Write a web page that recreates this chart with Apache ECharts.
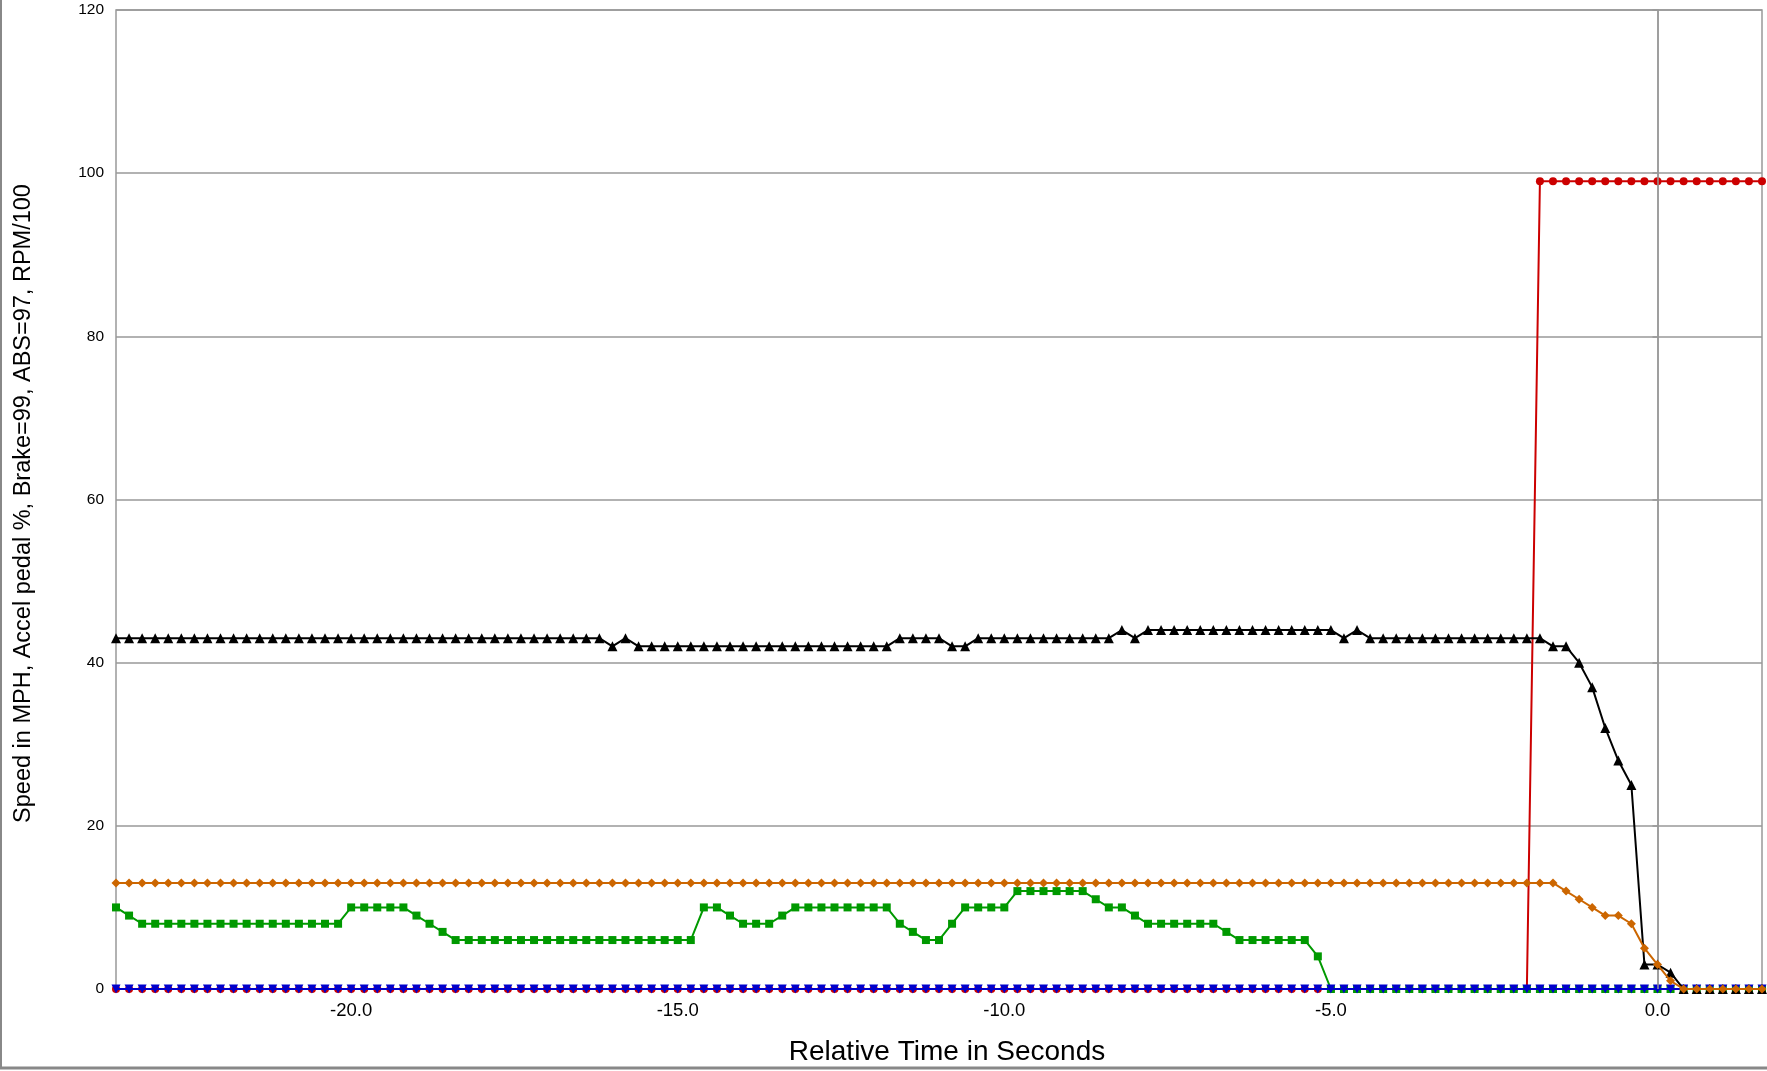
<!DOCTYPE html>
<html>
<head>
<meta charset="utf-8">
<style>
html,body{margin:0;padding:0;background:#fff;}
#chart{width:1767px;height:1071px;}
</style>
<script src="https://cdn.jsdelivr.net/npm/echarts@6/dist/echarts.min.js"></script>
</head>
<body>
<div id="chart"></div>
<script>
// Sample times: every 0.2 s from -23.6 to 1.6
var times = [];
for (var i = 0; i < 127; i++) { times.push(Math.round((-23.6 + 0.2 * i) * 10) / 10); }

var speed = [
  43,43,43,43,43,43,43,43,43,43,
  43,43,43,43,43,43,43,43,43,43,
  43,43,43,43,43,43,43,43,43,43,
  43,43,43,43,43,43,43,43,42,43,
  42,42,42,42,42,42,42,42,42,42,
  42,42,42,42,42,42,42,42,42,42,
  43,43,43,43,42,42,43,43,43,43,
  43,43,43,43,43,43,43,44,43,44,
  44,44,44,44,44,44,44,44,44,44,
  44,44,44,44,43,44,43,43,43,43,
  43,43,43,43,43,43,43,43,43,43,
  42,42,40,37,32,28,25,3,3,2,
  0,0,0,0,0,0,0
];
var accel = [
  13,13,13,13,13,13,13,13,13,13,
  13,13,13,13,13,13,13,13,13,13,
  13,13,13,13,13,13,13,13,13,13,
  13,13,13,13,13,13,13,13,13,13,
  13,13,13,13,13,13,13,13,13,13,
  13,13,13,13,13,13,13,13,13,13,
  13,13,13,13,13,13,13,13,13,13,
  13,13,13,13,13,13,13,13,13,13,
  13,13,13,13,13,13,13,13,13,13,
  13,13,13,13,13,13,13,13,13,13,
  13,13,13,13,13,13,13,13,13,13,
  13,12,11,10,9,9,8,5,3,1,
  0,0,0,0,0,0,0
];
var green = [
  10,9,8,8,8,8,8,8,8,8,
  8,8,8,8,8,8,8,8,10,10,
  10,10,10,9,8,7,6,6,6,6,
  6,6,6,6,6,6,6,6,6,6,
  6,6,6,6,6,10,10,9,8,8,
  8,9,10,10,10,10,10,10,10,10,
  8,7,6,6,8,10,10,10,10,12,
  12,12,12,12,12,11,10,10,9,8,
  8,8,8,8,8,7,6,6,6,6,
  6,6,4,0,0,0,0,0,0,0,
  0,0,0,0,0,0,0,0,0,0,
  0,0,0,0,0,0,0,0,0,0,
  0,0,0,0,0,0,0
];
var brake = [
  0,0,0,0,0,0,0,0,0,0,
  0,0,0,0,0,0,0,0,0,0,
  0,0,0,0,0,0,0,0,0,0,
  0,0,0,0,0,0,0,0,0,0,
  0,0,0,0,0,0,0,0,0,0,
  0,0,0,0,0,0,0,0,0,0,
  0,0,0,0,0,0,0,0,0,0,
  0,0,0,0,0,0,0,0,0,0,
  0,0,0,0,0,0,0,0,0,0,
  0,0,0,0,0,0,0,0,0,0,
  0,0,0,0,0,0,0,0,0,99,
  99,99,99,99,99,99,99,99,99,99,
  99,99,99,99,99,99,99
];
var abs = [
  0,0,0,0,0,0,0,0,0,0,
  0,0,0,0,0,0,0,0,0,0,
  0,0,0,0,0,0,0,0,0,0,
  0,0,0,0,0,0,0,0,0,0,
  0,0,0,0,0,0,0,0,0,0,
  0,0,0,0,0,0,0,0,0,0,
  0,0,0,0,0,0,0,0,0,0,
  0,0,0,0,0,0,0,0,0,0,
  0,0,0,0,0,0,0,0,0,0,
  0,0,0,0,0,0,0,0,0,0,
  0,0,0,0,0,0,0,0,0,0,
  0,0,0,0,0,0,0,0,0,0,
  0,0,0,0,0,0,0
];
var xTicks = [-20, -15, -10, -5, 0];

function pairs(vals) { return vals.map(function (v, i) { return [times[i], v]; }); }

var FONT = '"Liberation Sans", Arial, sans-serif';
var GRID = '#999999';

function lineSeries(name, vals, color, symbol, size, extra) {
  var s = {
    name: name, type: 'line', data: pairs(vals),
    symbol: symbol, symbolSize: size, showSymbol: true, showAllSymbol: true,
    lineStyle: { color: color, width: 2 },
    itemStyle: { color: color, borderWidth: 0 },
    animation: false, silent: true
  };
  for (var k in extra) s[k] = extra[k];
  return s;
}

var chart = echarts.init(document.getElementById('chart'));
chart.setOption({
  backgroundColor: '#ffffff',
  animation: false,
  grid: { left: 116, right: 5, top: 10, bottom: 81, show: true, borderColor: GRID, borderWidth: 1.5 },
  xAxis: {
    type: 'value', min: -23.6, max: 1.6,
    name: 'Relative Time in Seconds', nameLocation: 'middle', nameGap: 49,
    nameTextStyle: { fontFamily: FONT, fontSize: 28, color: '#000', padding: [0, 0, 0, 16] },
    axisLine: { show: true, onZero: false, lineStyle: { color: GRID, width: 1.5 } },
    axisTick: { show: false, customValues: xTicks },
    axisLabel: { customValues: xTicks, fontFamily: FONT, fontSize: 18.5, color: '#000', margin: 12,
      formatter: function (v) { return v.toFixed(1); } },
    splitLine: { show: false }
  },
  yAxis: {
    type: 'value', min: 0, max: 120, interval: 20,
    name: 'Speed in MPH, Accel pedal %, Brake=99, ABS=97, RPM/100', nameLocation: 'middle', nameGap: 80,
    nameTextStyle: { fontFamily: FONT, fontSize: 23.5, color: '#000', padding: [0, 8, 0, 0] },
    axisLine: { show: true, lineStyle: { color: GRID, width: 1.5 } },
    axisTick: { show: true, length: 5, lineStyle: { color: GRID, width: 1.5 } },
    axisLabel: { fontFamily: FONT, fontSize: 15.5, color: '#000', margin: 12 },
    splitLine: { show: true, lineStyle: { color: GRID, width: 1.5 } }
  },
  graphic: [
    { type: 'line', shape: { x1: 1, y1: 0, x2: 1, y2: 1069 }, style: { stroke: '#888', lineWidth: 2 } },
    { type: 'line', shape: { x1: 0, y1: 1068, x2: 1767, y2: 1068 }, style: { stroke: '#888', lineWidth: 3 } }
  ],
  series: [
    lineSeries('Brake', brake, '#cc0000', 'circle', 8, { z: 2 }),
    lineSeries('Green', green, '#009900', 'rect', 8, { z: 3 }),
    lineSeries('ABS', abs, '#0000cc', 'triangle', 9, { z: 4, symbolRotate: 180,
      markLine: { silent: true, symbol: 'none', label: { show: false },
        lineStyle: { color: GRID, width: 1.5, type: 'solid' }, data: [{ xAxis: 0 }] } }),
    lineSeries('Speed', speed, '#000000', 'triangle', 10, { z: 5 }),
    lineSeries('Accel', accel, '#cc6600', 'diamond', 9, { z: 6 })
  ]
});
</script>
</body>
</html>
